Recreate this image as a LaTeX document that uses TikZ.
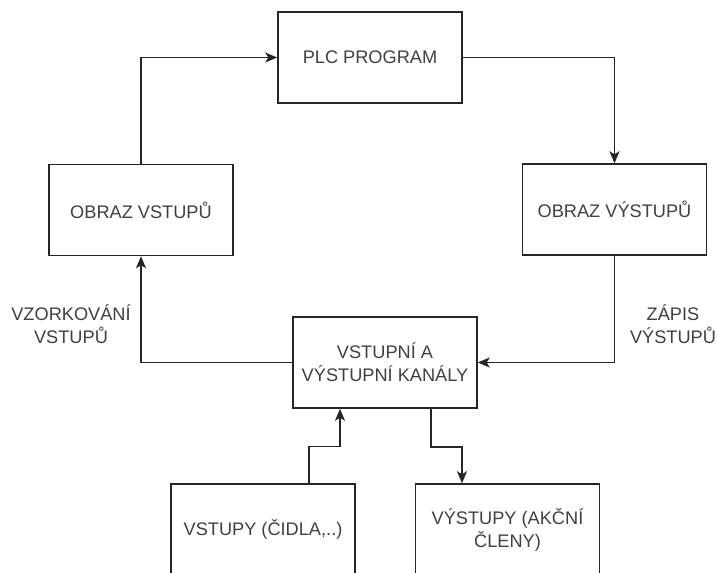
\documentclass[tikz,border=0pt]{standalone}
\usepackage{fontspec}
\setmainfont{Liberation Sans}
\usetikzlibrary{arrows.meta,calc}
\definecolor{txt}{HTML}{404040}
\tikzset{
  blk/.style={draw=black!85, line width=1.5pt, fill=white, minimum width=184pt,
    minimum height=91pt, inner sep=0pt, text=txt, font=\fontsize{18.2}{23}\selectfont,
    align=center},
  lbl/.style={text=txt, font=\fontsize{18.2}{23}\selectfont, align=center, inner sep=0pt},
  flow/.style={draw=black!85, line width=1.5pt,
    -{Stealth[length=12pt, width=10pt, inset=3pt]}}
}
\begin{document}
\begin{tikzpicture}[x=1pt, y=-1pt]
  \useasboundingbox (0,0) rectangle (718,573);
  \fill[white] (0,0) rectangle (718,573);

  % blocks of the scan cycle
  \node[blk] (plc)  at (370,57.5)    {PLC PROGRAM};
  \node[blk] (oin)  at (141,210)     {OBRAZ VSTUPŮ};
  \node[blk] (oout) at (614.5,209.5) {OBRAZ VÝSTUPŮ};
  \node[blk] (io)   at (385,362.5)   {VSTUPNÍ A\\VÝSTUPNÍ KANÁLY};
  \node[blk] (inp)  at (263,529.5)   {VSTUPY (ČIDLA,..)};
  \node[blk] (outp) at (507.5,529.5) {VÝSTUPY (AKČNÍ\\ČLENY)};

  % edge labels
  \node[lbl] (lsmp) at (71,324.5) {VZORKOVÁNÍ\\VSTUPŮ};
  \node[lbl] (lwr)  at (673,324)  {ZÁPIS\\VÝSTUPŮ};

  % cycle connectors
  \draw[flow] (oin.north) |- (plc.west);
  \draw[flow] (plc.east) -| (oout.north);
  \draw[flow] (oout.south) |- (io.east);
  \draw[flow] (io.west) -| (oin.south);

  % field devices
  \draw[flow] ([xshift=46pt]inp.north) -- ++(0,-37) -| ([xshift=-45pt]io.south);
  \draw[flow] ([xshift=46pt]io.south) -- ++(0,38) -| ([xshift=-45.5pt]outp.north);
\end{tikzpicture}
\end{document}
